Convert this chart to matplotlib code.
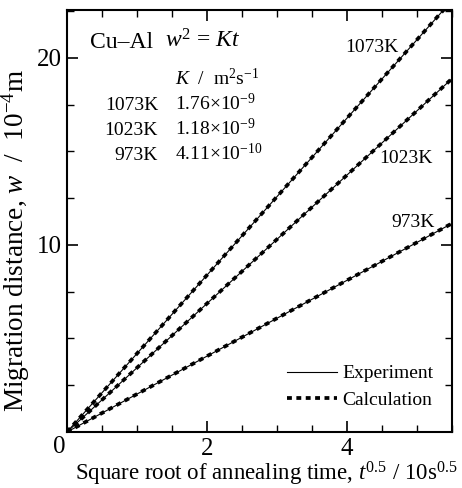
import matplotlib
matplotlib.use("Agg")
import matplotlib.pyplot as plt

plt.rcParams['font.family'] = ['Liberation Serif', 'DejaVu Serif']
plt.rcParams['mathtext.fontset'] = 'custom'
plt.rcParams['mathtext.rm'] = 'Liberation Serif'
plt.rcParams['mathtext.it'] = 'Liberation Serif:italic'

# data
temps = ['1073K', '1023K', '973K']
k_mantissa = ['1.76', '1.18', '4.11']
k_exponent = ['-9', '-9', '-10']
sqrt_time = [0.0, 5.5]
w_exp = [[0.0, 23.07], [0.0, 18.89], [0.0, 11.15]]
w_calc = [[0.0, 23.07], [0.0, 18.89], [0.0, 11.15]]
x_ticks = [2, 4]
y_ticks = [10, 20]

fig = plt.figure(figsize=(4.62, 4.88), dpi=100)
ax = fig.add_axes([67 / 462, 56 / 488, 385 / 462, 422 / 488])

dots = (0, (1.3, 1.2))
for we, wc in zip(w_exp, w_calc):
    ax.plot(sqrt_time, we, color='black', lw=0.8, solid_capstyle='butt')
    ax.plot(sqrt_time, wc, color='black', lw=2.7, linestyle=dots, dash_capstyle='butt')

ax.set_xlim(0, 5.5)
ax.set_ylim(0, 22.56)
ax.set_xticks(x_ticks)
ax.set_yticks(y_ticks)
ax.set_xticks([i * 0.5 for i in range(1, 12)], minor=True)
ax.set_yticks([i * 2.5 for i in range(1, 10)], minor=True)
ax.tick_params(which='both', direction='in', top=True, right=True, labelsize=18, pad=4)
ax.tick_params(which='major', length=8, width=1.2)
ax.tick_params(which='minor', length=5, width=1.0)
for s in ax.spines.values():
    s.set_linewidth(1.5)

fig.text(59 / 462, 1 - 447 / 488, '0', fontsize=18, ha='center', va='center')

ax.set_xlabel(r'Square root of annealing time, $t^{0.5}$ / 10s$^{0.5}$', fontsize=16.5)
ax.xaxis.set_label_coords(199 / 385, -28 / 422)
ax.set_ylabel(r'Migration distance, $w$  /  10$^{-4}$m', fontsize=19.6)
ax.yaxis.set_label_coords(-35 / 385, (432 - 241) / 422)

def px(x, y):
    return (x / 462, 1 - y / 488)

fig.text(*px(90, 48), 'Cu–Al', fontsize=17, ha='left', va='baseline')
fig.text(*px(165, 48), r'$w^2$ = $Kt$', fontsize=17, ha='left', va='baseline')
fig.text(*px(175, 85), r'$K$  /  m$^2$s$^{-1}$', fontsize=14, ha='left', va='baseline')
for i, (t, m, e) in enumerate(zip(temps, k_mantissa, k_exponent)):
    yb = 110 + 25 * i
    fig.text(*px(158, yb), t, fontsize=14, ha='right', va='baseline')
    fig.text(*px(175, yb), m + r'$\times$10$^{' + e + '}$', fontsize=14, ha='left', va='baseline')

fig.text(*px(398, 52), temps[0], fontsize=14, ha='right', va='baseline')
fig.text(*px(433, 163), temps[1], fontsize=14, ha='right', va='baseline')
fig.text(*px(435, 227), temps[2], fontsize=14, ha='right', va='baseline')

# legend
ax.plot([], [], color='black', lw=0.8, label='Experiment')
ax.plot([], [], color='black', lw=2.7, linestyle=dots, label='Calculation')
h, l = ax.get_legend_handles_labels()
ax.legend(h[-2:], l[-2:], loc='lower right', bbox_to_anchor=(0.987, 0.023), frameon=False,
          fontsize=14, handlelength=2.6, handletextpad=0.25, labelspacing=0.45, borderaxespad=0.3)

fig.savefig('out.png', dpi=100)
